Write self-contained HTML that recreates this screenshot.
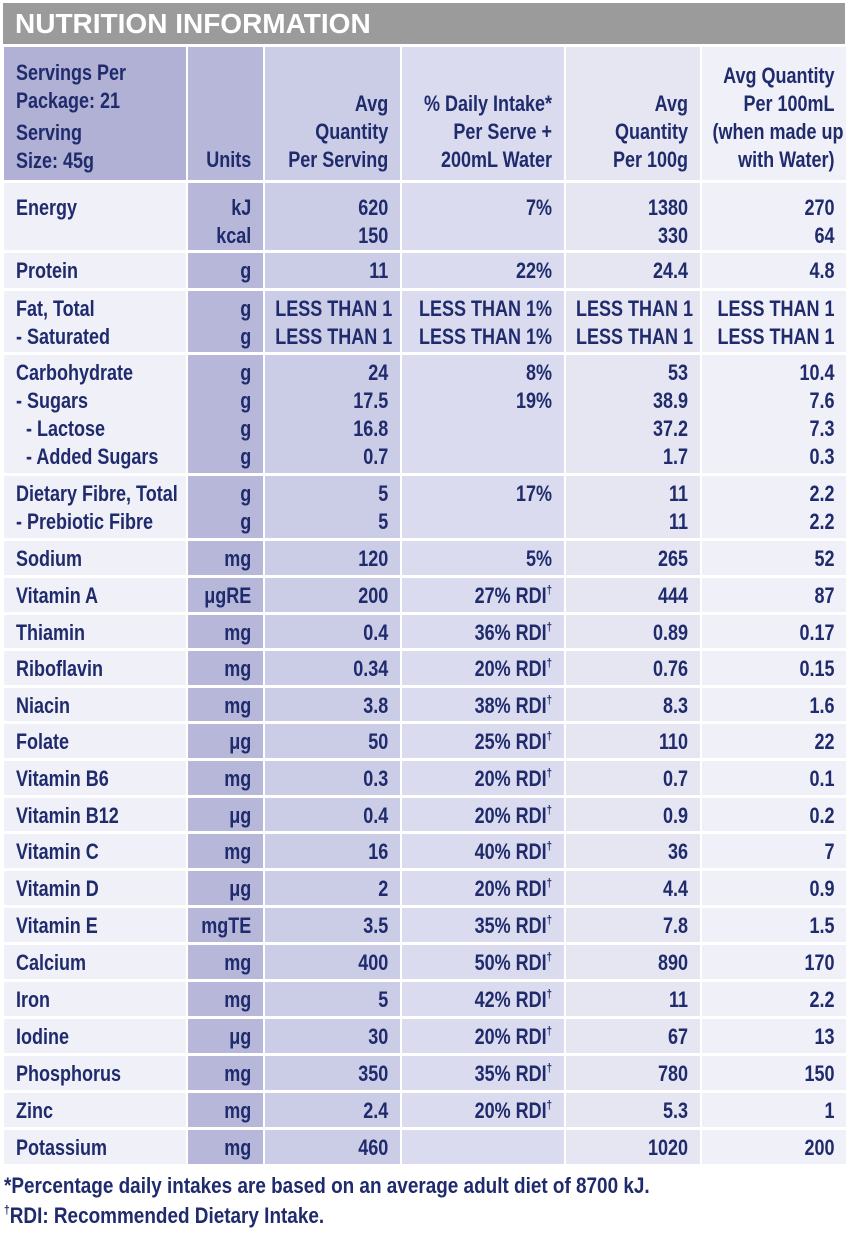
<!DOCTYPE html>
<html><head><meta charset="utf-8"><style>
body{margin:0;background:#fff;width:848px;height:1233px;overflow:hidden;font-family:"Liberation Sans",sans-serif;font-weight:bold;color:#1f2b6c;position:relative}
.bar{position:absolute;left:3px;top:3px;width:842px;height:41px;background:#9b9b9b;color:#fff;font-size:28px;line-height:42px;padding-left:12px;box-sizing:border-box;}
.g{position:absolute;left:4px;top:47px;display:grid;grid-template-columns:182px 75px 135px 162px 134px 144px;column-gap:2px;row-gap:3px;
grid-template-rows:133px 67px 35px 61px 118px 62px 34px 34px 33px 34px 33px 34px 34px 33px 34px 34px 34px 34px 34px 34px 34px 34px 34px;}
.g>div{font-size:22.5px;line-height:28px;padding:4px 12px 0 10px;white-space:nowrap;box-sizing:border-box;position:relative}
.s{display:block;width:125%;margin-left:-25%;text-align:right;transform:scaleX(0.8);transform-origin:right top;}
.c1 .s{margin-left:0;text-align:left;transform-origin:left top}
.c1{background:#f0f0f8;padding-left:12px!important}
.c2{background:#b6b7d9}
.c3{background:#cbcce6}
.c4{background:#dadbee}
.c5{background:#e6e6f3}
.c6{background:#f0f0f8}
.h{display:flex;align-items:flex-end;padding-bottom:6px!important}
.hc{background:#b0b1d4!important;padding-top:12px!important}
.gp{margin-top:4px}
.e{padding-top:11px!important}
sup{font-size:12px;line-height:0;vertical-align:9px}
.foot{position:absolute;left:4px;font-size:22px;transform:scaleX(0.86);transform-origin:left top;white-space:nowrap}
</style></head><body>
<div class="bar">NUTRITION INFORMATION</div>
<div class="g">
<div class="c1 hc"><span class="s">Servings Per<br>Package: 21<div class="gp">Serving<br>Size: 45g</div></span></div>
<div class="c2 h"><span class="s">Units</span></div>
<div class="c3 h"><span class="s">Avg<br>Quantity<br>Per Serving</span></div>
<div class="c4 h"><span class="s">% Daily Intake*<br>Per Serve +<br>200mL Water</span></div>
<div class="c5 h"><span class="s">Avg<br>Quantity<br>Per 100g</span></div>
<div class="c6 h"><span class="s">Avg Quantity<br>Per 100mL<br>(when made up<br>with Water)</span></div>

<div class="c1 e"><span class="s">Energy</span></div><div class="c2 e"><span class="s">kJ<br>kcal</span></div><div class="c3 e"><span class="s">620<br>150</span></div><div class="c4 e"><span class="s">7%</span></div><div class="c5 e"><span class="s">1380<br>330</span></div><div class="c6 e"><span class="s">270<br>64</span></div>
<div class="c1"><span class="s">Protein</span></div><div class="c2"><span class="s">g</span></div><div class="c3"><span class="s">11</span></div><div class="c4"><span class="s">22%</span></div><div class="c5"><span class="s">24.4</span></div><div class="c6"><span class="s">4.8</span></div>
<div class="c1"><span class="s">Fat, Total<br>- Saturated</span></div><div class="c2"><span class="s">g<br>g</span></div><div class="c3"><span class="s">LESS THAN 1<br>LESS THAN 1</span></div><div class="c4"><span class="s">LESS THAN 1%<br>LESS THAN 1%</span></div><div class="c5"><span class="s">LESS THAN 1<br>LESS THAN 1</span></div><div class="c6"><span class="s">LESS THAN 1<br>LESS THAN 1</span></div>
<div class="c1"><span class="s">Carbohydrate<br>- Sugars<br>&nbsp;&nbsp;- Lactose<br>&nbsp;&nbsp;- Added Sugars</span></div><div class="c2"><span class="s">g<br>g<br>g<br>g</span></div><div class="c3"><span class="s">24<br>17.5<br>16.8<br>0.7</span></div><div class="c4"><span class="s">8%<br>19%</span></div><div class="c5"><span class="s">53<br>38.9<br>37.2<br>1.7</span></div><div class="c6"><span class="s">10.4<br>7.6<br>7.3<br>0.3</span></div>
<div class="c1"><span class="s">Dietary Fibre, Total<br>- Prebiotic Fibre</span></div><div class="c2"><span class="s">g<br>g</span></div><div class="c3"><span class="s">5<br>5</span></div><div class="c4"><span class="s">17%</span></div><div class="c5"><span class="s">11<br>11</span></div><div class="c6"><span class="s">2.2<br>2.2</span></div>
<div class="c1"><span class="s">Sodium</span></div><div class="c2"><span class="s">mg</span></div><div class="c3"><span class="s">120</span></div><div class="c4"><span class="s">5%</span></div><div class="c5"><span class="s">265</span></div><div class="c6"><span class="s">52</span></div>
<div class="c1"><span class="s">Vitamin A</span></div><div class="c2"><span class="s">μgRE</span></div><div class="c3"><span class="s">200</span></div><div class="c4"><span class="s">27% RDI<sup>†</sup></span></div><div class="c5"><span class="s">444</span></div><div class="c6"><span class="s">87</span></div>
<div class="c1"><span class="s">Thiamin</span></div><div class="c2"><span class="s">mg</span></div><div class="c3"><span class="s">0.4</span></div><div class="c4"><span class="s">36% RDI<sup>†</sup></span></div><div class="c5"><span class="s">0.89</span></div><div class="c6"><span class="s">0.17</span></div>
<div class="c1"><span class="s">Riboflavin</span></div><div class="c2"><span class="s">mg</span></div><div class="c3"><span class="s">0.34</span></div><div class="c4"><span class="s">20% RDI<sup>†</sup></span></div><div class="c5"><span class="s">0.76</span></div><div class="c6"><span class="s">0.15</span></div>
<div class="c1"><span class="s">Niacin</span></div><div class="c2"><span class="s">mg</span></div><div class="c3"><span class="s">3.8</span></div><div class="c4"><span class="s">38% RDI<sup>†</sup></span></div><div class="c5"><span class="s">8.3</span></div><div class="c6"><span class="s">1.6</span></div>
<div class="c1"><span class="s">Folate</span></div><div class="c2"><span class="s">μg</span></div><div class="c3"><span class="s">50</span></div><div class="c4"><span class="s">25% RDI<sup>†</sup></span></div><div class="c5"><span class="s">110</span></div><div class="c6"><span class="s">22</span></div>
<div class="c1"><span class="s">Vitamin B6</span></div><div class="c2"><span class="s">mg</span></div><div class="c3"><span class="s">0.3</span></div><div class="c4"><span class="s">20% RDI<sup>†</sup></span></div><div class="c5"><span class="s">0.7</span></div><div class="c6"><span class="s">0.1</span></div>
<div class="c1"><span class="s">Vitamin B12</span></div><div class="c2"><span class="s">μg</span></div><div class="c3"><span class="s">0.4</span></div><div class="c4"><span class="s">20% RDI<sup>†</sup></span></div><div class="c5"><span class="s">0.9</span></div><div class="c6"><span class="s">0.2</span></div>
<div class="c1"><span class="s">Vitamin C</span></div><div class="c2"><span class="s">mg</span></div><div class="c3"><span class="s">16</span></div><div class="c4"><span class="s">40% RDI<sup>†</sup></span></div><div class="c5"><span class="s">36</span></div><div class="c6"><span class="s">7</span></div>
<div class="c1"><span class="s">Vitamin D</span></div><div class="c2"><span class="s">μg</span></div><div class="c3"><span class="s">2</span></div><div class="c4"><span class="s">20% RDI<sup>†</sup></span></div><div class="c5"><span class="s">4.4</span></div><div class="c6"><span class="s">0.9</span></div>
<div class="c1"><span class="s">Vitamin E</span></div><div class="c2"><span class="s">mgTE</span></div><div class="c3"><span class="s">3.5</span></div><div class="c4"><span class="s">35% RDI<sup>†</sup></span></div><div class="c5"><span class="s">7.8</span></div><div class="c6"><span class="s">1.5</span></div>
<div class="c1"><span class="s">Calcium</span></div><div class="c2"><span class="s">mg</span></div><div class="c3"><span class="s">400</span></div><div class="c4"><span class="s">50% RDI<sup>†</sup></span></div><div class="c5"><span class="s">890</span></div><div class="c6"><span class="s">170</span></div>
<div class="c1"><span class="s">Iron</span></div><div class="c2"><span class="s">mg</span></div><div class="c3"><span class="s">5</span></div><div class="c4"><span class="s">42% RDI<sup>†</sup></span></div><div class="c5"><span class="s">11</span></div><div class="c6"><span class="s">2.2</span></div>
<div class="c1"><span class="s">Iodine</span></div><div class="c2"><span class="s">μg</span></div><div class="c3"><span class="s">30</span></div><div class="c4"><span class="s">20% RDI<sup>†</sup></span></div><div class="c5"><span class="s">67</span></div><div class="c6"><span class="s">13</span></div>
<div class="c1"><span class="s">Phosphorus</span></div><div class="c2"><span class="s">mg</span></div><div class="c3"><span class="s">350</span></div><div class="c4"><span class="s">35% RDI<sup>†</sup></span></div><div class="c5"><span class="s">780</span></div><div class="c6"><span class="s">150</span></div>
<div class="c1"><span class="s">Zinc</span></div><div class="c2"><span class="s">mg</span></div><div class="c3"><span class="s">2.4</span></div><div class="c4"><span class="s">20% RDI<sup>†</sup></span></div><div class="c5"><span class="s">5.3</span></div><div class="c6"><span class="s">1</span></div>
<div class="c1"><span class="s">Potassium</span></div><div class="c2"><span class="s">mg</span></div><div class="c3"><span class="s">460</span></div><div class="c4"></div><div class="c5"><span class="s">1020</span></div><div class="c6"><span class="s">200</span></div>
</div>
<div class="foot" style="top:1173px">*Percentage daily intakes are based on an average adult diet of 8700 kJ.</div>
<div class="foot" style="top:1203px"><sup>†</sup>RDI: Recommended Dietary Intake.</div>
</body></html>
